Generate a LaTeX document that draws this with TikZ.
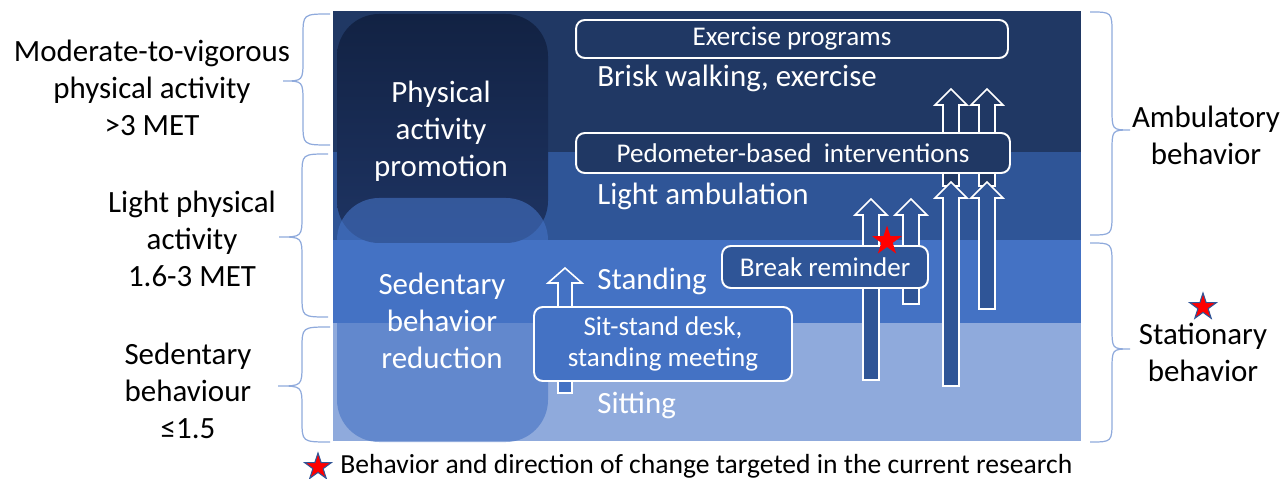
\documentclass[tikz,border=0pt]{standalone}
\usepackage{fontspec}
\setmainfont{Carlito}
\usetikzlibrary{shapes.geometric}

\definecolor{mvpaband}{HTML}{203864}
\definecolor{lightband}{HTML}{2F5597}
\definecolor{standband}{HTML}{4472C4}
\definecolor{sitband}{HTML}{8FAADC}
\definecolor{promotop}{HTML}{122243}
\definecolor{promobot}{HTML}{1E3463}
\definecolor{bracecol}{HTML}{8FAADC}

\newcommand{\bigfont}{\fontsize{17.6}{21}\selectfont}
\newcommand{\boxfont}{\fontsize{15.4}{17.6}\selectfont}
\newcommand{\notefont}{\fontsize{15.7}{17}\selectfont}

% curly brace: open end x, back x, tip x, top y, tip y, bottom y, curl
\newcommand{\curlybrace}[7]{%
  \draw[bracel] (#1,#4) .. controls (#2,#4) .. (#2,#4+#7) -- (#2,#5-#7)
    .. controls (#2,#5) .. (#3,#5) .. controls (#2,#5) .. (#2,#5+#7)
    -- (#2,#6-#7) .. controls (#2,#6) .. (#1,#6);}

\tikzset{
  tagbox/.style={draw=white, line width=1.1pt, rounded corners=5pt, text=white,
    font=\boxfont, inner sep=0pt, align=center},
  panellabel/.style={text=white, font=\bigfont, align=center, inner sep=0pt},
  levellabel/.style={text=black, font=\bigfont, align=center, inner sep=0pt},
  blockarrow/.style={draw=white, line width=0.9pt, line join=miter},
  bracel/.style={draw=bracecol, line width=0.7pt},
  goalstar/.style={star, star points=5, star point ratio=2.6, fill=red, inner sep=0pt}
}

\begin{document}
\begin{tikzpicture}[x=0.02cm, y=-0.02cm]
\useasboundingbox (0,0) rectangle (1284,479);

% activity bands
\fill[mvpaband] (333,11) rectangle (1081,152);
\fill[lightband] (333,152) rectangle (1081,240);
\fill[standband] (333,240) rectangle (1081,323);
\fill[sitband] (333,323) rectangle (1081,441);

% the two strategy panes
\shade[top color=promotop, bottom color=promobot, rounded corners=24pt] (337,14) rectangle (548,243);
\fill[standband, fill opacity=0.6, rounded corners=24pt] (337,198) rectangle (548,442);

\node[panellabel] (promo) at (441,131) {Physical\\activity\\promotion};
\node[panellabel] (reduce) at (442,321) {Sedentary\\behavior\\reduction};

\node[panellabel, anchor=base west] (brisk) at (597,87) {Brisk walking, exercise};
\node[panellabel, anchor=base west] (lightamb) at (597,205) {Light ambulation};
\node[panellabel, anchor=base west] (standing) at (597,290) {Standing};
\node[panellabel, anchor=base west] (sitting) at (597,413) {Sitting};

% arrows behind the pedometer box
\foreach \xc in {951,987}
  \draw[blockarrow, fill=mvpaband] (\xc-8,186) -- (\xc-8,105) -- (\xc-16,105)
    -- (\xc,89) -- (\xc+16,105) -- (\xc+8,105) -- (\xc+8,186) -- cycle;

\node[tagbox, fill=mvpaband, minimum width=8.64cm, minimum height=0.76cm] (exprog) at (792,39) {Exercise programs};
\node[tagbox, fill=mvpaband, minimum width=8.68cm, minimum height=0.8cm] (pedo) at (793,153) {Pedometer-based~~interventions};

\foreach \xc/\yt/\yb in {951/182/386, 987/182/309, 871/199/380, 911/199/304}
  \draw[blockarrow, fill=lightband] (\xc-8,\yb) -- (\xc-8,\yt+16) -- (\xc-16,\yt+16)
    -- (\xc,\yt) -- (\xc+16,\yt+16) -- (\xc+8,\yt+16) -- (\xc+8,\yb) -- cycle;

\draw[blockarrow, fill=standband] (558,393) -- (558,283) -- (548,283) -- (565,268)
  -- (582,283) -- (572,283) -- (572,393) -- cycle;

\node[tagbox, fill=lightband, minimum width=4.12cm, minimum height=0.84cm] (breakrem) at (825,267) {Break reminder};
\node[tagbox, fill=standband, minimum width=5.16cm, minimum height=1.48cm] (sitstand) at (663,344) {Sit-stand desk,\\standing meeting};

\node[goalstar, minimum size=0.62cm] (mark) at (887,241) {};

% intensity levels
\curlybrace{330}{303}{283}{14}{81}{145}{22}
\curlybrace{328}{302}{279}{154}{237}{317}{22}
\curlybrace{330}{302}{278}{327}{386}{442}{22}
\node[levellabel] (mvpa) at (152,88) {Moderate-to-vigorous\\physical activity\\>3 MET};
\node[levellabel] (lpa) at (192,239) {Light physical\\activity\\1.6-3 MET};
\node[levellabel] (sb) at (188,391) {Sedentary\\behaviour\\≤1.5};

% behaviour types
\curlybrace{1090}{1112}{1130}{12}{130}{235}{22}
\curlybrace{1090}{1112}{1130}{243}{349}{442}{22}
\node[levellabel] (ambul) at (1206,135) {Ambulatory\\behavior};
\node[levellabel] (station) at (1203,352) {Stationary\\behavior};
\node[goalstar, draw=lightband, line width=0.6pt, minimum size=0.56cm] (stationstar) at (1203,307) {};

% legend
\node[goalstar, draw=lightband, line width=0.6pt, minimum size=0.56cm] (legstar) at (318,467) {};
\node[anchor=base west, inner sep=0pt, font=\notefont] (legend) at (340,473) {Behavior and direction of change targeted in the current research};
\end{tikzpicture}
\end{document}
